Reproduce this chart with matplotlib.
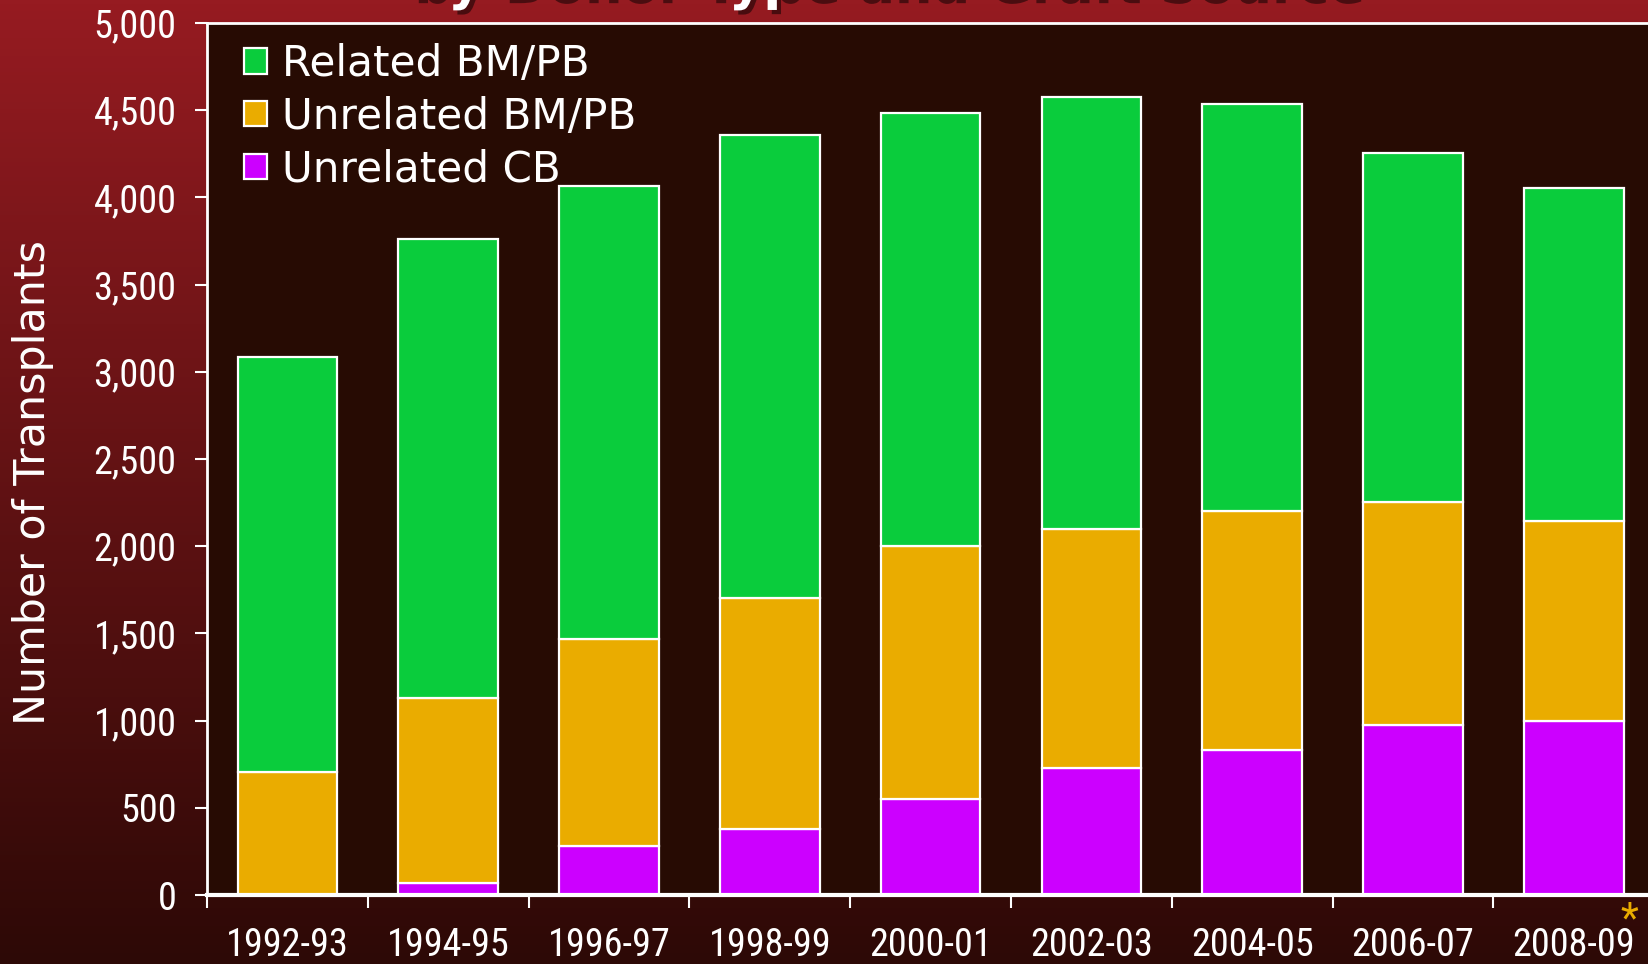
import numpy as np
import matplotlib
matplotlib.use("Agg")
import matplotlib.pyplot as plt
from matplotlib import font_manager
from matplotlib.ticker import FuncFormatter
import matplotlib.patheffects as pe

periods = ["1992-93", "1994-95", "1996-97", "1998-99", "2000-01",
           "2002-03", "2004-05", "2006-07", "2008-09"]
unrelated_cb = [0, 66, 283, 380, 548, 729, 831, 976, 1000]
unrelated_bmpb = [705, 1061, 1187, 1325, 1452, 1367, 1368, 1277, 1145]
related_bmpb = [2379, 2632, 2596, 2650, 2482, 2482, 2337, 2000, 1909]

green = "#0ACC3C"
orange = "#EAAC00"
purple = "#CC00FF"

# narrow sans for tick labels (Arial Narrow look)
cands = []
for f in font_manager.fontManager.ttflist:
    if f.style != "normal" or f.weight not in (400, "normal", "regular"):
        continue
    if "Narrow" in f.name or "Condensed" in f.name or f.stretch in ("condensed", "semi-condensed"):
        cands.append(f)
cands.sort(key=lambda f: (0 if "Liberation" in f.name else 1 if "Roboto" in f.name else 2, f.name))
if cands:
    narrow = font_manager.FontProperties(fname=cands[0].fname)
else:
    narrow = font_manager.FontProperties(family="DejaVu Sans")

fig = plt.figure(figsize=(16.48, 9.64), dpi=100)

# gradient background
bg = fig.add_axes([0, 0, 1, 1], zorder=0)
top = np.array([0x96, 0x1B, 0x21]) / 255
bot = np.array([0x2D, 0x09, 0x06]) / 255
t = np.linspace(0, 1, 256)[:, None]
grad = (top * (1 - t) + bot * t)[:, None, :]
bg.imshow(grad, aspect="auto", extent=[0, 1, 0, 1])
bg.axis("off")

ax = fig.add_axes([207 / 1648, 69 / 964, 9 * 160.8 / 1648, 872 / 964], zorder=1)
ax.set_facecolor("#270B03")

x = np.arange(len(periods))
w = 0.62
cb = np.array(unrelated_cb)
ub = np.array(unrelated_bmpb)
rb = np.array(related_bmpb)
b3 = ax.bar(x, cb, w, color=purple, edgecolor="white", linewidth=1.6, label="Unrelated CB")
b2 = ax.bar(x, ub, w, bottom=cb, color=orange, edgecolor="white", linewidth=1.6, label="Unrelated BM/PB")
b1 = ax.bar(x, rb, w, bottom=cb + ub, color=green, edgecolor="white", linewidth=1.6, label="Related BM/PB")

ax.set_xlim(-0.5, len(periods) - 0.5)
ax.set_ylim(0, 5000)
ax.set_yticks(np.arange(0, 5001, 500))
ax.yaxis.set_major_formatter(FuncFormatter(lambda v, p: f"{int(v):,}"))
ax.set_xticks(x)
ax.set_xticklabels(periods)
ax.set_xticks(np.arange(-0.5, len(periods) - 0.5, 1), minor=True)

for s in ax.spines.values():
    s.set_color("white")
    s.set_linewidth(2)
ax.spines["bottom"].set_linewidth(3)
ax.spines["right"].set_visible(False)

ax.tick_params(axis="y", colors="white", length=9, width=1.5, direction="out", pad=13)
ax.tick_params(axis="x", which="major", length=0, pad=23, colors="white")
ax.tick_params(axis="x", which="minor", length=9, width=1.5, color="white", direction="out")
for lab in ax.get_xticklabels() + ax.get_yticklabels():
    lab.set_fontproperties(narrow)
    lab.set_fontsize(27.5)
    lab.set_color("white")

leg = ax.legend(handles=[b1, b2, b3], loc="upper left", bbox_to_anchor=(0.0256, 0.977),
                frameon=False, fontsize=30.3, handlelength=0.55, handleheight=0.55,
                handletextpad=0.34, labelspacing=0.25, borderpad=0, borderaxespad=0)
for txt in leg.get_texts():
    txt.set_color("white")

fig.text(33 / 1648, 0.4995, "Number of Transplants", rotation=90, color="white",
         fontsize=30.8, ha="center", va="center")

# title sits mostly above the visible area, as in the slide crop
title = fig.text(885 / 1648, 1 + 1 / 964, "by Donor Type and Graft Source", color="white",
                 fontsize=38, fontweight="bold", ha="center", va="baseline", zorder=5)
title.set_path_effects([pe.withSimplePatchShadow(offset=(3, -3), shadow_rgbFace="black", alpha=0.5)])

star = fig.text(1629 / 1648, 1 - 920 / 964, "*", color=orange, ha="center", va="center")
star.set_fontproperties(narrow)
star.set_fontsize(30)

fig.savefig("out.png", dpi=100)
